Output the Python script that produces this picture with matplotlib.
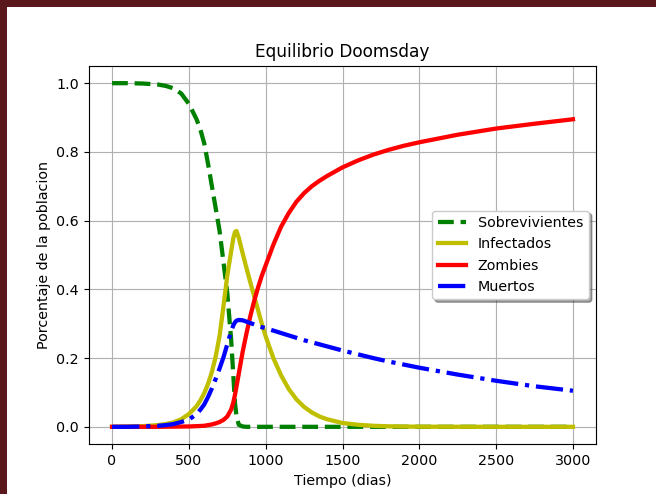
import matplotlib
matplotlib.use("Agg")
import matplotlib.pyplot as plt
from matplotlib.patches import Rectangle

t = [0, 100, 200, 300, 350, 400, 450, 500, 550, 575,
     600, 625, 650, 675, 700, 725, 750, 775, 790, 800,
     810, 825, 850, 875, 900, 925, 950, 975, 1000, 1050,
     1100, 1150, 1200, 1250, 1300, 1350, 1400, 1500, 1600, 1700,
     1800, 1900, 2000, 2250, 2500, 2750, 3000]

sobrevivientes = [1.0, 1.0, 0.999, 0.996, 0.992, 0.985, 0.97, 0.94, 0.895, 0.865,
                  0.825, 0.765, 0.70, 0.635, 0.57, 0.48, 0.39, 0.255, 0.145, 0.07,
                  0.03, 0.006, 0.001, 0.0, 0.0, 0.0, 0.0, 0.0, 0.0, 0.0,
                  0.0, 0.0, 0.0, 0.0, 0.0, 0.0, 0.0, 0.0, 0.0, 0.0,
                  0.0, 0.0, 0.0, 0.0, 0.0, 0.0, 0.0]

infectados = [0.0, 0.001, 0.002, 0.005, 0.008, 0.013, 0.022, 0.037, 0.06, 0.077,
              0.098, 0.125, 0.16, 0.205, 0.265, 0.35, 0.44, 0.51, 0.55, 0.567,
              0.57, 0.55, 0.505, 0.462, 0.42, 0.38, 0.34, 0.30, 0.263, 0.20,
              0.15, 0.11, 0.08, 0.058, 0.042, 0.03, 0.022, 0.011, 0.006, 0.003,
              0.0015, 0.0008, 0.0004, 0.0001, 0.0, 0.0, 0.0]

zombies = [0.0, 0.0, 0.0, 0.0, 0.0003, 0.0005, 0.0008, 0.001, 0.002, 0.0025,
           0.003, 0.005, 0.007, 0.01, 0.014, 0.02, 0.03, 0.05, 0.072, 0.093,
           0.117, 0.155, 0.218, 0.272, 0.322, 0.366, 0.405, 0.44, 0.47, 0.53,
           0.582, 0.622, 0.655, 0.68, 0.70, 0.716, 0.73, 0.755, 0.775, 0.792,
           0.806, 0.818, 0.828, 0.85, 0.868, 0.882, 0.895]

muertos = [0.0, 0.0, 0.001, 0.003, 0.005, 0.008, 0.014, 0.021, 0.037, 0.05,
           0.065, 0.087, 0.112, 0.14, 0.17, 0.202, 0.24, 0.278, 0.296, 0.304,
           0.309, 0.311, 0.31, 0.306, 0.302, 0.298, 0.294, 0.29, 0.287, 0.28,
           0.273, 0.266, 0.259, 0.252, 0.246, 0.24, 0.234, 0.222, 0.211, 0.2,
           0.19, 0.181, 0.172, 0.152, 0.134, 0.118, 0.105]

DPI = 102.3
W, H = 656, 494
fig = plt.figure(figsize=(W / DPI, H / DPI), dpi=DPI)
fig.patch.set_facecolor("white")
border = "#5a181d"
fig.add_artist(Rectangle((0, 1 - 7 / H), 1, 7 / H, transform=fig.transFigure,
                         facecolor=border, edgecolor="none", zorder=-10))
fig.add_artist(Rectangle((0, 0), 7 / W, 1, transform=fig.transFigure,
                         facecolor=border, edgecolor="none", zorder=-10))

ax = fig.add_axes([89 / W, 1 - 444 / H, (596 - 89) / W, (444 - 66) / H])
ax.plot(t, sobrevivientes, 'g--', lw=3, label='Sobrevivientes')
ax.plot(t, infectados, 'y', lw=3, label='Infectados')
ax.plot(t, zombies, 'r', lw=3, label='Zombies')
ax.plot(t, muertos, 'b-.', lw=3, label='Muertos')
ax.grid(True)
ax.set_title('Equilibrio Doomsday')
ax.set_xlabel('Tiempo (dias)')
ax.set_ylabel('Porcentaje de la poblacion')
ax.legend(loc='center right', shadow=True)

fig.savefig('out.png', dpi=DPI, facecolor=fig.get_facecolor())
